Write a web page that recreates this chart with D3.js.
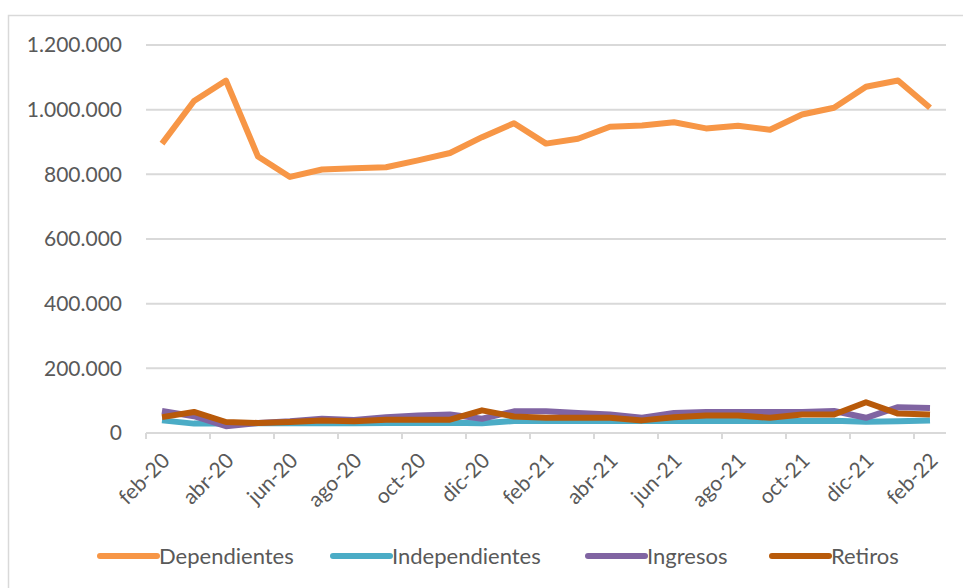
<!DOCTYPE html>
<html>
<head>
    <script src="https://d3js.org/d3.v7.min.js"></script>
    <style type="text/css">
        body { margin: 0; background: white; }
        text { font-family: Lato, "Open Sans", sans-serif; fill: #595959; }
    </style>
</head>
<body>
    <script type="text/javascript">

        // tamaño del svg
        var w = 963;
        var h = 588;

        // datos
        var months = ["feb-20", "mar-20", "abr-20", "may-20", "jun-20", "jul-20", "ago-20", "sep-20",
                      "oct-20", "nov-20", "dic-20", "ene-21", "feb-21", "mar-21", "abr-21", "may-21",
                      "jun-21", "jul-21", "ago-21", "sep-21", "oct-21", "nov-21", "dic-21", "ene-22", "feb-22"];

        var dependientes = [895000, 1027000, 1090000, 855000, 792000, 815000, 819000, 822000, 843000,
                            866000, 915000, 958000, 895000, 910000, 947000, 951000, 961000, 942000,
                            950000, 938000, 985000, 1006000, 1071000, 1090000, 1006000];

        var independientes = [39000, 29000, 29000, 30000, 30000, 30000, 30000, 31000, 31000, 32000,
                              30000, 37000, 37000, 37000, 37000, 37000, 37000, 37000, 37000, 37000,
                              37000, 38000, 35000, 36000, 39000];

        var ingresos = [68000, 52000, 21000, 31000, 36000, 44000, 40000, 49000, 54000, 57000, 44000,
                        67000, 67000, 62000, 57000, 47000, 62000, 65000, 65000, 65000, 65000, 68000,
                        47000, 80000, 77000];

        var retiros = [49000, 65000, 34000, 31000, 34000, 39000, 36000, 41000, 41000, 41000, 70000,
                       51000, 47000, 47000, 47000, 39000, 49000, 54000, 54000, 47000, 57000, 57000,
                       95000, 60000, 57000];

        var yTicks = [0, 200000, 400000, 600000, 800000, 1000000, 1200000];

        var seriesNames = ["Dependientes", "Independientes", "Ingresos", "Retiros"];
        var seriesValues = [dependientes, independientes, ingresos, retiros];
        var colors = ["#F79646", "#4BACC6", "#8064A2", "#B85A0A"];

        var svg = d3.select("body")
            .append("svg")
            .attr("width", w)
            .attr("height", h);

        // borde del gráfico
        svg.append("rect")
            .attr("x", 8.5)
            .attr("y", 15.5)
            .attr("width", w)
            .attr("height", h)
            .attr("fill", "white")
            .attr("stroke", "#d9d9d9")
            .attr("stroke-width", 1.5);

        // área del gráfico (ojo: "top" es reservado en window)
        var pLeft = 146, pRight = 946, pTop = 45, pBottom = 433;

        var xScale = d3.scaleBand()
            .domain(months)
            .range([pLeft, pRight]);

        var yScale = d3.scaleLinear()
            .domain([0, 1200000])
            .range([pBottom, pTop]);

        var fmt = function(v) {
            return v === 0 ? "0" : d3.format(",")(v).replace(/,/g, ".");
        };

        // líneas de cuadrícula
        svg.selectAll(".grid")
            .data(yTicks.slice(1))
            .enter()
            .append("line")
            .attr("x1", pLeft)
            .attr("x2", pRight)
            .attr("y1", function(d) { return yScale(d); })
            .attr("y2", function(d) { return yScale(d); })
            .attr("stroke", "#d9d9d9")
            .attr("stroke-width", 2);

        // etiquetas eje y
        svg.selectAll(".ylab")
            .data(yTicks)
            .enter()
            .append("text")
            .attr("x", 122)
            .attr("y", function(d) { return yScale(d); })
            .attr("dy", "0.35em")
            .attr("text-anchor", "end")
            .style("font-size", "21px")
            .text(fmt);

        // eje x
        svg.append("line")
            .attr("x1", pLeft)
            .attr("x2", pRight)
            .attr("y1", pBottom)
            .attr("y2", pBottom)
            .attr("stroke", "#d9d9d9")
            .attr("stroke-width", 2);

        var tickIdx = d3.range(0, months.length + 1, 2);
        svg.selectAll(".xtick")
            .data(tickIdx)
            .enter()
            .append("line")
            .attr("x1", function(i) { return pLeft + i * xScale.step(); })
            .attr("x2", function(i) { return pLeft + i * xScale.step(); })
            .attr("y1", pBottom)
            .attr("y2", pBottom + 6)
            .attr("stroke", "#d9d9d9")
            .attr("stroke-width", 2);

        svg.selectAll(".xlab")
            .data(months.filter(function(d, i) { return i % 2 === 0; }))
            .enter()
            .append("text")
            .attr("text-anchor", "end")
            .attr("transform", function(d) {
                var x = xScale(d) + xScale.bandwidth() / 2 + 9;
                return "translate(" + x + "," + (pBottom + 29) + ") rotate(-45)";
            })
            .style("font-size", "21px")
            .text(function(d) { return d; });

        // series
        var line = d3.line()
            .x(function(d, i) { return xScale(months[i]) + xScale.bandwidth() / 2; })
            .y(function(d) { return yScale(d); });

        svg.selectAll(".serie")
            .data(seriesValues)
            .enter()
            .append("path")
            .attr("d", line)
            .attr("fill", "none")
            .attr("stroke", function(d, i) { return colors[i]; })
            .attr("stroke-width", 6)
            .attr("stroke-linejoin", "round");

        // leyenda
        var legendX = [100, 333, 588, 772];
        var legend = svg.selectAll(".legend")
            .data(seriesNames)
            .enter()
            .append("g")
            .attr("transform", function(d, i) { return "translate(" + legendX[i] + ",556)"; });

        legend.append("line")
            .attr("x1", 0)
            .attr("x2", 57)
            .attr("stroke", function(d, i) { return colors[i]; })
            .attr("stroke-width", 6)
            .attr("stroke-linecap", "round");

        legend.append("text")
            .attr("x", 59)
            .attr("dy", "0.35em")
            .style("font-size", "22px")
            .text(function(d) { return d; });

    </script>
</body>
</html>
